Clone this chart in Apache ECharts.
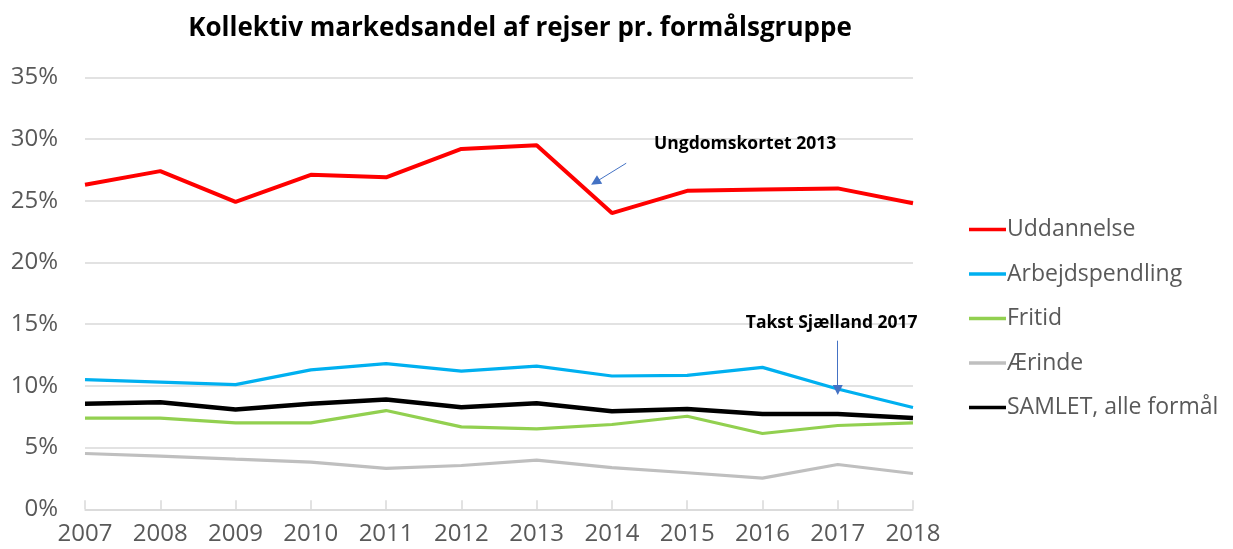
<!DOCTYPE html>
<html>
<head>
<meta charset="utf-8">
<script src="https://cdn.jsdelivr.net/npm/echarts@6/dist/echarts.min.js"></script>
<style>
  html, body { margin: 0; padding: 0; background: #fff; }
  #main { width: 1233px; height: 549px; }
</style>
</head>
<body>
<div id="main"></div>
<script>
// years on the x axis
var years = [2007, 2008, 2009, 2010, 2011, 2012, 2013, 2014, 2015, 2016, 2017, 2018];

// share of trips by public transport, in percent
var uddannelse = [26.3, 27.4, 24.9, 27.1, 26.9, 29.2, 29.5, 24.0, 25.8, 25.9, 26.0, 24.8];
var arbejdspendling = [10.5, 10.3, 10.1, 11.3, 11.8, 11.2, 11.6, 10.8, 10.85, 11.5, 9.75, 8.25];
var fritid = [7.38, 7.38, 7.0, 7.0, 8.0, 6.68, 6.52, 6.87, 7.54, 6.14, 6.79, 7.0];
var aerinde = [4.52, 4.31, 4.06, 3.82, 3.31, 3.55, 3.98, 3.37, 2.96, 2.53, 3.63, 2.9];
var samlet = [8.56, 8.67, 8.08, 8.56, 8.89, 8.26, 8.6, 7.94, 8.13, 7.73, 7.73, 7.4];

var yTicks = [0, 5, 10, 15, 20, 25, 30, 35];

// annotations: [year, value] in data units
var note1Text = 'Ungdomskortet 2013';
var note1Pos = [2015.77, 29.6];
var note1Arrow = [[2014.19, 28.04], [2013.78, 26.5]];
var note2Text = 'Takst Sjælland 2017';
var note2Pos = [2016.92, 15.1];
var note2Arrow = [[2017, 13.66], [2017, 9.67]];

function pairs(vals) {
  return vals.map(function (v, i) { return [years[i], v]; });
}

var font = '"Open Sans", sans-serif';
var chart = echarts.init(document.getElementById('main'));

function arrow(pts) {
  return {
    silent: true,
    symbol: ['none', 'triangle'],
    symbolSize: 10,
    lineStyle: { color: '#4472C4', width: 1, type: 'solid' },
    itemStyle: { color: '#4472C4' },
    label: { show: false },
    emphasis: { disabled: true },
    data: [[{ coord: pts[0] }, { coord: pts[1] }]]
  };
}

function note(text, pos) {
  return {
    silent: true,
    symbol: 'circle',
    symbolSize: 0,
    label: {
      show: true, position: 'inside', formatter: text,
      fontFamily: font, fontWeight: 'bold', fontSize: 17.5, color: '#000'
    },
    data: [{ coord: pos }]
  };
}

var option = {
  animation: false,
  title: {
    text: 'Kollektiv markedsandel af rejser pr. formålsgruppe',
    left: 515, top: 11, textAlign: 'center',
    textStyle: { fontFamily: font, fontWeight: 'bold', fontSize: 26, color: '#000' }
  },
  grid: { left: 85, right: 320, top: 77.3, bottom: 39.7 },
  legend: {
    orient: 'vertical',
    left: 964, top: 213,
    itemGap: 21.5,
    icon: 'rect',
    itemWidth: 37, itemHeight: 3.5,
    textStyle: { fontFamily: font, fontSize: 23, color: '#595959', padding: [0, 0, 0, -4] },
    data: ['Uddannelse', 'Arbejdspendling', 'Fritid', 'Ærinde', 'SAMLET, alle formål']
  },
  xAxis: {
    type: 'value',
    min: 2007, max: 2018, interval: 1,
    axisLine: { lineStyle: { color: '#d9d9d9', width: 1.5 } },
    axisTick: { inside: true, length: 9, lineStyle: { color: '#d9d9d9', width: 1.5 } },
    splitLine: { show: false },
    axisLabel: {
      fontFamily: font, fontSize: 24, color: '#595959', margin: 13,
      formatter: function (v) { return String(v); }
    }
  },
  yAxis: {
    type: 'value',
    min: yTicks[0], max: yTicks[yTicks.length - 1], interval: 5,
    axisLine: { show: false },
    axisTick: { show: false },
    splitLine: { lineStyle: { color: '#d9d9d9', width: 1.5 } },
    axisLabel: {
      fontFamily: font, fontSize: 24, color: '#595959', margin: 27,
      formatter: function (v) { return v + '%'; }
    }
  },
  series: [
    {
      name: 'Uddannelse', type: 'line', symbol: 'none', z: 3,
      data: pairs(uddannelse),
      itemStyle: { color: '#FF0000' },
      lineStyle: { color: '#FF0000', width: 4 },
      markLine: arrow(note1Arrow),
      markPoint: note(note1Text, note1Pos)
    },
    {
      name: 'Arbejdspendling', type: 'line', symbol: 'none', z: 3,
      data: pairs(arbejdspendling),
      itemStyle: { color: '#00B0F0' },
      lineStyle: { color: '#00B0F0', width: 3.2 },
      markLine: arrow(note2Arrow),
      markPoint: note(note2Text, note2Pos)
    },
    {
      name: 'Fritid', type: 'line', symbol: 'none', z: 3,
      data: pairs(fritid),
      itemStyle: { color: '#92D050' },
      lineStyle: { color: '#92D050', width: 3.2 }
    },
    {
      name: 'Ærinde', type: 'line', symbol: 'none', z: 3,
      data: pairs(aerinde),
      itemStyle: { color: '#BFBFBF' },
      lineStyle: { color: '#BFBFBF', width: 3.2 }
    },
    {
      name: 'SAMLET, alle formål', type: 'line', symbol: 'none', z: 3,
      data: pairs(samlet),
      itemStyle: { color: '#000000' },
      lineStyle: { color: '#000000', width: 4.5 }
    }
  ]
};

chart.setOption(option);
</script>
</body>
</html>
